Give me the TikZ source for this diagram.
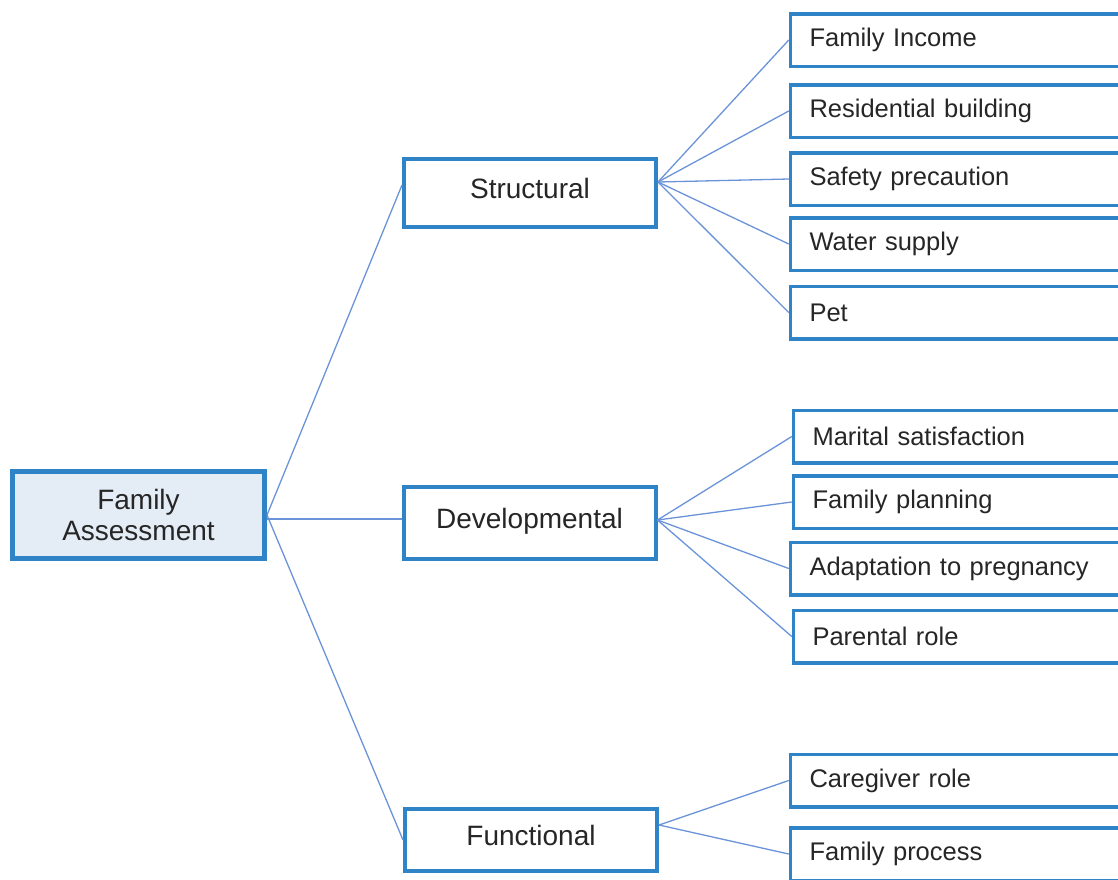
\documentclass[tikz,border=0pt]{standalone}
\usepackage{fontspec}
\setmainfont{Liberation Sans}
\usetikzlibrary{calc}
\definecolor{boxblue}{HTML}{2E84C6}
\definecolor{linkblue}{HTML}{6A93D8}
\definecolor{rootfill}{HTML}{E4ECF6}
\definecolor{txt}{HTML}{262626}
\begin{document}
\begin{tikzpicture}[x=1pt,y=-1pt,
  mainbox/.style={draw=boxblue,line width=4pt,fill=white,minimum width=252pt,inner sep=0pt,
    text height=20pt,text depth=10pt,font=\fontsize{28}{31}\selectfont,text=txt},
  rootbox/.style={draw=boxblue,line width=5pt,fill=rootfill,minimum width=252pt,minimum height=87pt,
    inner sep=0pt,align=center,font=\fontsize{28}{31}\selectfont,text=txt},
  leafbox/.style={draw=boxblue,line width=3.5pt,fill=white,anchor=west,text width=340pt,align=left,
    inner xsep=19pt,inner ysep=0pt,minimum height=52.5pt,font=\fontsize{25.5}{29}\selectfont,text=txt},
  link/.style={draw=linkblue,line width=1.3pt}]
\useasboundingbox (0,0) rectangle (1118,879);
\clip (0,0) rectangle (1118,879);
% main nodes
\node[rootbox] (root) at (138.5,515) {Family\\Assessment};
\node[mainbox,minimum height=68pt] (s) at (530,193) {Structural};
\node[mainbox,minimum height=72pt] (d) at (529.5,523) {Developmental};
\node[mainbox,minimum height=62pt] (f) at (531,840) {Functional};
% leaves: structural
\node[leafbox] (l1) at (788.75,40) {Family Income};
\node[leafbox] (l2) at (788.75,111) {Residential building};
\node[leafbox] (l3) at (788.75,179) {Safety precaution};
\node[leafbox] (l4) at (788.75,244) {Water supply};
\node[leafbox] (l5) at (788.75,312.5) {Pet};
% leaves: developmental
\node[leafbox] (m1) at (791.75,436.5) {Marital satisfaction};
\node[leafbox] (m2) at (791.75,502) {Family planning};
\node[leafbox] (m3) at (788.75,568.5) {Adaptation to pregnancy};
\node[leafbox] (m4) at (791.75,636.5) {Parental role};
% leaves: functional
\node[leafbox] (n1) at (788.75,780.5) {Caregiver role};
\node[leafbox] (n2) at (788.75,854) {Family process};
% hubs
\coordinate (sh) at ($(s.east)+(0,-11)$);
\coordinate (sw) at ($(s.west)+(0,-8)$);
\coordinate (dh) at ($(d.east)+(0,-3)$);
\coordinate (dw) at ($(d.west)+(0,-4)$);
\coordinate (fh) at ($(f.east)+(0,-15)$);
\coordinate (rd) at (root.east |- dw);
% connectors
\draw[link] (root.east) -- (sw);
\draw[link] (rd) -- (dw);
\draw[link] (root.east) -- (f.west);
\foreach \n in {l1,l2,l3,l4,l5} \draw[link] (sh) -- (\n.west);
\foreach \n in {m1,m2,m3,m4} \draw[link] (dh) -- (\n.west);
\foreach \n in {n1,n2} \draw[link] (fh) -- (\n.west);
\end{tikzpicture}
\end{document}
